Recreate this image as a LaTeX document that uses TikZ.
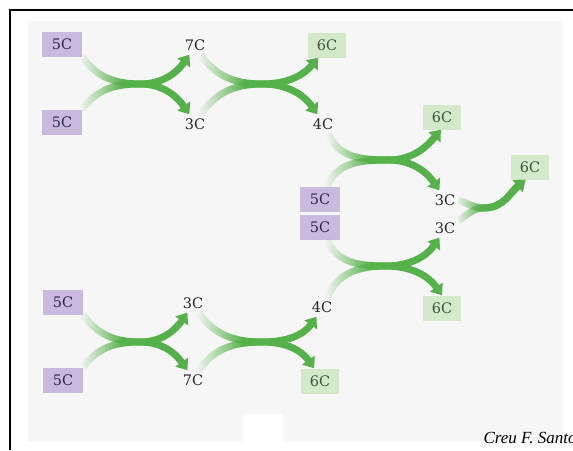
\documentclass[tikz,border=0pt]{standalone}
\usepackage{fontspec}
\setmainfont{Liberation Serif}
\newfontfamily\labelfont{DejaVu Serif}
\usetikzlibrary{arrows.meta, fadings}
\definecolor{cpurple}{HTML}{C8BADD}
\definecolor{cgreen}{HTML}{D4E8CA}
\definecolor{carrow}{HTML}{55B149}
\definecolor{cpanel}{HTML}{F6F6F6}
\definecolor{cink}{HTML}{2C2946}
\definecolor{cgink}{HTML}{3E5539}
% arms fade in over the first part of each swoosh (the path box is fitted to -25bp..25bp)
\begin{tikzfadingfrompicture}[name=fade in]
  \fill[transparent!100] (-40bp,-40bp) rectangle (-25bp,40bp);
  \shade[left color=transparent!100, right color=transparent!0] (-25bp,-40bp) rectangle (-5bp,40bp);
  \fill[transparent!0] (-5bp,-40bp) rectangle (40bp,40bp);
\end{tikzfadingfrompicture}
\tikzset{
  every picture/.style={font=\labelfont\fontsize{14.5}{16}\selectfont},
  box/.style={fill=#1, minimum width=40pt, minimum height=25pt, inner sep=2pt},
  box/.default=cpurple,
  five/.style={box=cpurple, text=cink},
  six/.style={box=cgreen, text=cgink, minimum width=38pt},
  mol/.style={inner sep=3pt, minimum width=25pt, minimum height=19pt, text=black!85},
  swoosh/.style={-{Triangle[length=10pt, width=15pt]}, draw=carrow, line width=7pt, path fading=fade in},
  credit/.style={font=\itshape\fontsize{17}{19}\selectfont, anchor=base west},
}

\begin{document}
\begin{tikzpicture}[x=1pt, y=1pt]
  \useasboundingbox (0,0) rectangle (573,-450);
  \clip (0,0) rectangle (573,-450);
  % panel and frame
  \fill[cpanel] (28,-21) rectangle (563,-441);
  \fill[white] (243,-414) rectangle (283,-441);
  \draw[line width=1.6pt] (10,-450) -- (10,-10) -- (573,-10);
  % upper branch
  \node[five] (a1) at (62,-44) {5C};
  \node[five] (a2) at (62,-122) {5C};
  \node[mol] (b1) at (195,-45) {7C};
  \node[mol] (b2) at (195,-124) {3C};
  \node[six] (c1) at (327,-45) {6C};
  \node[mol] (c2) at (323,-124) {4C};
  \node[six] (d1) at (442,-117) {6C};
  % middle: two pentoses meet the two trioses
  \node[five] (p1) at (320,-199) {5C};
  \node[five] (p2) at (320,-227) {5C};
  \node[mol] (d2) at (445,-200) {3C};
  \node[mol] (d3) at (445,-228) {3C};
  \node[six] (e1) at (442,-308) {6C};
  \node[six] (f) at (530,-167) {6C};
  % lower branch
  \node[five] (g1) at (63,-302) {5C};
  \node[five] (g2) at (63,-380) {5C};
  \node[mol] (h1) at (193,-303) {3C};
  \node[mol] (h2) at (193,-380) {7C};
  \node[mol] (k1) at (322,-307) {4C};
  \node[six] (k2) at (320,-381) {6C};
  \node[credit] (cr) at (480,-443) {Creu F. Santos};
  % crossing points
  \coordinate (mA) at (140,-84);  \coordinate (mB) at (262,-84);
  \coordinate (mC) at (388,-160); \coordinate (mD) at (385,-266);
  \coordinate (mE) at (484,-208);
  \coordinate (mF) at (140,-342); \coordinate (mG) at (262,-342);
  % swooshes
  \draw[swoosh] (a1.south east) to[out=-55,in=180] (mA) to[out=0,in=125] (b2.120);
  \draw[swoosh] (a2.north east) to[out=55,in=180] (mA) to[out=0,in=-125] (b1.240);
  \draw[swoosh] (b1.300) to[out=-55,in=180] (mB) to[out=0,in=125] (c2.120);
  \draw[swoosh] (b2.60) to[out=55,in=180] (mB) to[out=0,in=-130] (c1.235);
  \draw[swoosh] (c2.300) to[out=-70,in=180] (mC) to[out=0,in=125] (d2.120);
  \draw[swoosh] (p1.60) to[out=70,in=180] (mC) to[out=0,in=-130] (d1.265);
  \draw[swoosh] (p2.300) to[out=-70,in=180] (mD) to[out=0,in=-125] (d3.240);
  \draw[swoosh] (k1.60) to[out=70,in=180] (mD) to[out=0,in=125] (e1.north);
  \draw[swoosh] (d2.east) to[out=-20,in=180] (mE) to[out=0,in=-140] (f.250);
  \draw[swoosh] (d3.30) to[out=30,in=180] (mE) to[out=0,in=-140] (f.250);
  \draw[swoosh] (g1.south east) to[out=-55,in=180] (mF) to[out=0,in=125] (h2.120);
  \draw[swoosh] (g2.north east) to[out=55,in=180] (mF) to[out=0,in=-125] (h1.240);
  \draw[swoosh] (h1.300) to[out=-55,in=180] (mG) to[out=0,in=125] (k2.115);
  \draw[swoosh] (h2.60) to[out=55,in=180] (mG) to[out=0,in=-125] (k1.240);
\end{tikzpicture}
\end{document}
